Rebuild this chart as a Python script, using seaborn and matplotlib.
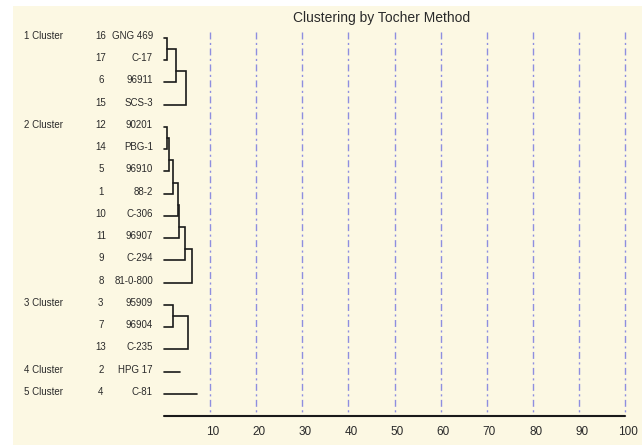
import matplotlib
matplotlib.use("Agg")
import matplotlib.pyplot as plt
import seaborn as sns
import numpy as np

# Tocher clusters: leaf order, serial numbers, names
cluster_labels = ["1 Cluster", "2 Cluster", "3 Cluster", "4 Cluster", "5 Cluster"]
cluster_members = [
    [16, 17, 6, 15],
    [12, 14, 5, 1, 10, 11, 9, 8],
    [3, 7, 13],
    [2],
    [4],
]
member_names = {
    16: "GNG 469", 17: "C-17", 6: "96911", 15: "SCS-3",
    12: "90201", 14: "PBG-1", 5: "96910", 1: "88-2", 10: "C-306",
    11: "96907", 9: "C-294", 8: "81-0-800",
    3: "95909", 7: "96904", 13: "C-235",
    2: "HPG 17", 4: "C-81",
}
# distance at which each successive member joins its group (first value = first pair)
join_heights = [
    [0.65, 2.5, 4.7],
    [0.7, 1.15, 2.0, 3.1, 3.25, 4.55, 6.15],
    [2.0, 5.3],
    [3.45],
    [7.1],
]
x_ticks = [10, 20, 30, 40, 50, 60, 70, 80, 90, 100]

sns.set_theme(style="white")
plt.rcParams["font.family"] = ["Liberation Sans", "DejaVu Sans"]

cream = "#fcf8e3"
line_col = "#1a1a1a"
grid_col = "#8e8ee0"
txt_col = "#2a2a2a"

W, H = 642, 445
fig = plt.figure(figsize=(W / 100, H / 100), dpi=100, facecolor="white")
# px mapping: x=0 -> 164px, 4.61 px per unit ; row 0 -> 38px, 22.25 px per row
ax = fig.add_axes([13 / W, 0, 1 - 13 / W, 1 - 6 / H])
ax.set_facecolor(cream)
ax.set_xlim((13 - 164) / 4.61, (W - 164) / 4.61)
ax.set_ylim((H - 38) / 22.25, (6 - 38) / 22.25)
ax.set_xticks([])
ax.set_yticks([])
sns.despine(ax=ax, left=True, bottom=True)

n_rows = sum(len(m) for m in cluster_members)

# grid lines
for t in x_ticks:
    ax.plot([t, t], [-0.27, n_rows], color=grid_col, lw=1.0,
            dashes=(5, 2.5, 1.5, 2.5), zorder=1, snap=True)

row = 0
for lab, members, heights in zip(cluster_labels, cluster_members, join_heights):
    ax.text(-30.4, row - 0.1, lab, fontsize=7, ha="left", va="center", color=txt_col)
    start = row
    for i, m in enumerate(members):
        r = start + i
        ax.text(-13.7, r - 0.1, str(m), fontsize=7, ha="center", va="center", color=txt_col)
        ax.text(-2.4, r - 0.1, member_names[m], fontsize=7, ha="right", va="center", color=txt_col)
    if len(members) == 1:
        ax.plot([0, heights[0]], [start, start], color=line_col, lw=1.2, zorder=3)
    else:
        # first pair
        h = heights[0]
        ax.plot([0, h, h, 0], [start, start, start + 1, start + 1],
                color=line_col, lw=1.2, zorder=3, solid_joinstyle="miter")
        prev_h = h
        for k in range(2, len(members)):
            h = heights[k - 1]
            r = start + k
            ax.plot([prev_h, h, h, 0], [r - 1.5, r - 1.5, r, r],
                    color=line_col, lw=1.2, zorder=3, solid_joinstyle="miter")
            prev_h = h
    row += len(members)

# axis line and tick labels
ax.plot([0, 100], [n_rows, n_rows], color=line_col, lw=1.5, zorder=3)
for t in x_ticks:
    ax.text(t + 0.6, n_rows + 0.7, str(t), fontsize=8.5, ha="center", va="center", color=txt_col)

ax.text(47.1, -0.9, "Clustering by Tocher Method", fontsize=10, ha="center",
        va="center", color=txt_col)

fig.savefig("out.png", dpi=100, facecolor="white")
